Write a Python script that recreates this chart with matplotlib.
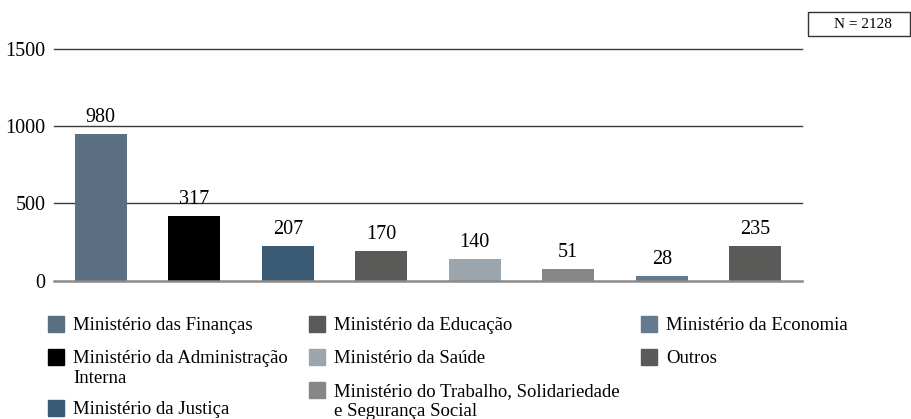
import matplotlib.pyplot as plt
from matplotlib.patches import Rectangle

# Data
categories = [
    "Ministério das Finanças",
    "Ministério da Administração\nInterna",
    "Ministério da Justiça",
    "Ministério da Educação",
    "Ministério da Saúde",
    "Ministério do Trabalho, Solidariedade\ne Segurança Social",
    "Ministério da Economia",
    "Outros",
]
bar_heights = [949, 418, 224, 192, 140, 75, 30, 224]
bar_labels = ["980", "317", "207", "170", "140", "51", "28", "235"]
colors = ["#5a6f82", "#000000", "#3a5b75", "#595958", "#9ba5ae",
          "#878787", "#647a8e", "#5a5a58"]
y_ticks = [0, 500, 1000, 1500]
n_total = "N = 2128"

W, H = 911, 419
FONT = "Liberation Serif"
plt.rcParams["font.family"] = [FONT, "DejaVu Serif"]

fig = plt.figure(figsize=(W / 100, H / 100), dpi=100)


def fx(px):
    return px / W


def fy(py):
    return 1 - py / H


ax = fig.add_axes([fx(54), fy(280.7), fx(802) - fx(54), fy(48.7) - fy(280.7)])
x = range(len(categories))
bars = ax.bar(x, bar_heights, width=0.556, color=colors, zorder=3)
ax.set_xlim(-0.5, len(categories) - 0.5)
ax.set_ylim(0, 1500)
ax.set_yticks(y_ticks)
ax.set_yticklabels([str(t) for t in y_ticks], fontsize=14.5)
ax.set_xticks([])
ax.tick_params(axis="y", length=0, pad=6)
for s in ax.spines.values():
    s.set_visible(False)
for t in y_ticks[1:]:
    ax.axhline(t, color="#3a3a3a", lw=1.0, zorder=1, clip_on=False)
ax.axhline(0, color="#8a8a8a", lw=1.8, zorder=4, clip_on=False)

for rect, lab in zip(bars, bar_labels):
    ax.annotate(lab, (rect.get_x() + rect.get_width() / 2, rect.get_height()),
                xytext=(0, 5), textcoords="offset points",
                ha="center", va="bottom", fontsize=14.5)

# N box
fig.patches.append(Rectangle((fx(808), fy(36)), fx(910) - fx(808), fy(12) - fy(36),
                             transform=fig.transFigure, fill=False,
                             edgecolor="#333333", lw=1.0))
fig.text(fx(863), fy(24), n_total, ha="center", va="center", fontsize=11)

# manual legend, three columns
col_x = [48, 309, 641]
rows_per_col = 3
for i, (lab, c) in enumerate(zip(categories, colors)):
    col = i // rows_per_col
    row = i % rows_per_col
    prev = categories[col * rows_per_col: i]
    y = 324 + 33 * row + 18 * sum(p.count("\n") for p in prev)
    sx = col_x[col]
    fig.patches.append(Rectangle((fx(sx), fy(y + 8)), fx(16), 16 / H,
                                 transform=fig.transFigure, color=c))
    fig.text(fx(sx + 25), fy(y - 7), lab, ha="left", va="top",
             fontsize=13.5, linespacing=1.22)

fig.savefig("out.png", dpi=100)
